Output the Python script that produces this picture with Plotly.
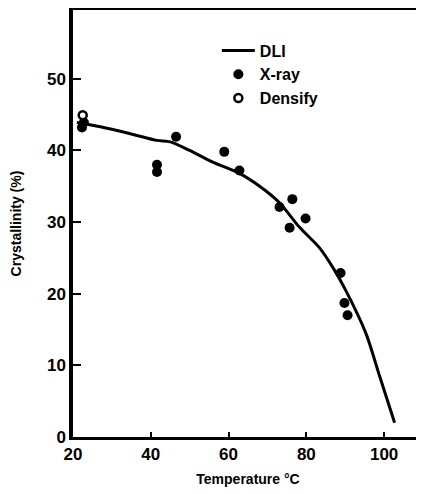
import plotly.graph_objects as go

# DLI curve
dli_t = [21, 27, 35, 41.6, 45, 50, 55.8, 62.8, 68, 73.1, 78.2, 83.4, 87, 90.1, 95.3, 98.9, 102.7]
dli_c = [43.9, 43.3, 42.3, 41.4, 41.2, 40.0, 38.4, 36.8, 35.0, 32.7, 29.3, 26.4, 23.5, 20.5, 14.5, 8.4, 2.0]

# X-ray points
xray_t = [22.3, 22.8, 41.6, 41.6, 46.5, 58.9, 62.8, 73.1, 76.4, 75.7, 79.8, 88.8, 89.8, 90.6]
xray_c = [43.2, 43.9, 38.0, 37.0, 41.9, 39.8, 37.2, 32.1, 33.2, 29.2, 30.5, 22.9, 18.7, 17.0]

# Density points
dens_t = [22.5]
dens_c = [44.9]

x_ticks = [20, 40, 60, 80, 100]
x_ticklabels = ["20", "40", "60", "80", "100"]
y_ticks = [0, 10, 20, 30, 40, 50]
y_ticklabels = ["0", "10", "20", "30", "40", "50"]

font_main = dict(family="Liberation Sans", color="black", size=16, weight="bold")

fig = go.Figure()
fig.add_trace(go.Scatter(x=dli_t, y=dli_c, mode="lines", name="DLI",
                         line=dict(color="black", width=3, shape="spline", smoothing=0.8)))
fig.add_trace(go.Scatter(x=xray_t, y=xray_c, mode="markers", name="X-ray",
                         marker=dict(color="black", size=10, symbol="circle")))
fig.add_trace(go.Scatter(x=dens_t, y=dens_c, mode="markers", name="Densify",
                         marker=dict(color="white", size=8, symbol="circle",
                                     line=dict(color="black", width=2.5))))

fig.update_layout(
    width=416, height=486,
    margin=dict(l=65, r=1, t=2, b=57),
    paper_bgcolor="white", plot_bgcolor="white",
    font=font_main,
    showlegend=True,
    legend=dict(x=0.411, y=0.945, xanchor="left", yanchor="top",
                bgcolor="rgba(0,0,0,0)", font=dict(size=16, weight="bold"),
                itemwidth=33, tracegroupgap=0),
)
fig.update_xaxes(range=[20, 110], tickvals=x_ticks, ticktext=x_ticklabels,
                 automargin=False,
                 showline=True, linecolor="black", linewidth=2.5, mirror=True,
                 ticks="inside", ticklen=5, tickwidth=2, tickcolor="black",
                 showgrid=False, zeroline=False,
                 title=dict(text="Temperature °C", font=dict(size=14, weight="bold"), standoff=12),
                 tickfont=dict(size=17, weight="bold"))
fig.update_yaxes(range=[0, 59.6], tickvals=y_ticks, ticktext=y_ticklabels,
                 automargin=False,
                 showline=True, linecolor="black", linewidth=3.5, mirror=False,
                 ticks="inside", ticklen=8, tickwidth=2, tickcolor="black",
                 showgrid=False, zeroline=False,
                 title=dict(text="Crystallinity (%)", font=dict(size=14, weight="bold"), standoff=24),
                 tickfont=dict(size=17, weight="bold"))
fig.add_shape(type="line", xref="paper", yref="paper", x0=1, x1=1, y0=0, y1=1,
              line=dict(color="#888888", width=1, dash="dot"))

fig.write_html("out.html")
